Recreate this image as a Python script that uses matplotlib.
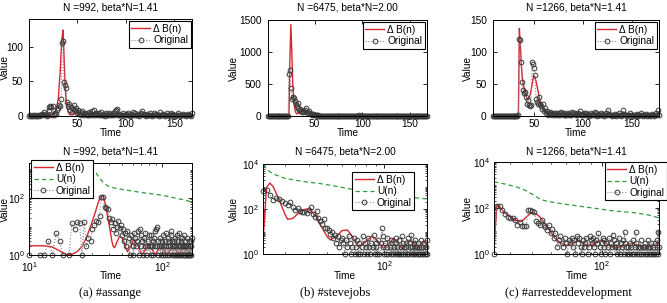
import numpy as np
import matplotlib
matplotlib.use('Agg')
import matplotlib.pyplot as plt
from matplotlib.lines import Line2D
from matplotlib.ticker import FixedLocator, LogLocator, NullFormatter, LogFormatterSciNotation

plt.rcParams['font.family'] = ['Liberation Sans', 'DejaVu Sans']
plt.rcParams['mathtext.fontset'] = 'custom'
plt.rcParams['mathtext.rm'] = 'Liberation Sans'
plt.rcParams['mathtext.it'] = 'Liberation Sans:italic'
plt.rcParams['mathtext.default'] = 'regular'

# ---------------- data ----------------
# (a) #assange
time_a = np.arange(1, 169)
orig_a = [0, 1, 0, 0, 2, 0, 1, 0, 0, 1,
          0, 1, 1, 3, 1, 6, 3, 1, 0, 1,
          13, 8, 14, 13, 1, 14, 2, 4, 3, 8,
          11, 16, 14, 24, 105, 108, 49, 45, 40, 20,
          14, 18, 8, 13, 6, 10, 16, 9, 11, 5,
          8, 3, 6, 2, 7, 4, 1, 5, 3, 2,
          1, 6, 4, 2, 3, 7, 1, 8, 2, 5,
          3, 1, 4, 2, 6, 1, 2, 3, 0, 5,
          2, 1, 5, 2, 3, 1, 4, 2, 7, 8,
          10, 2, 1, 3, 2, 0, 4, 1, 2, 3,
          1, 5, 2, 0, 3, 1, 2, 6, 1, 4,
          2, 1, 3, 0, 2, 5, 7, 3, 1, 2,
          0, 3, 1, 2, 4, 1, 0, 2, 5, 1,
          3, 1, 2, 0, 6, 2, 1, 3, 1, 0,
          2, 4, 1, 2, 0, 5, 1, 3, 2, 1,
          0, 2, 1, 4, 1, 0, 2, 1, 3, 1,
          2, 0, 1, 3, 1, 2, 0, 4]
dB_a_t = [1, 10, 13, 15, 17, 19, 21, 23, 25, 27, 29, 31, 33, 34, 35, 36, 37, 38, 39, 40,
          41, 42, 43, 44, 46, 48, 50, 52, 55, 58, 61, 65, 68, 71, 75, 79, 84, 89, 93, 97,
          103, 109, 115, 122, 128, 133, 139, 145, 151, 158, 163, 168]
dB_a = [2, 2.1, 2.1, 1.9, 1.4, 1.05, 1.05, 1.3, 2, 4, 10, 25, 65, 95, 115, 124, 80, 45, 22, 12,
        6, 3, 2, 1.8, 3, 4.5, 4, 2.5, 1.3, 2, 3.5, 2.5, 1.5, 1, 1.6, 2.5, 1.6, 1, 1.5, 2,
        1.5, 1, 1.4, 2, 1.5, 1, 1.4, 2, 1.5, 1, 1.4, 1.8]
U_a_t = [10, 15, 20, 25, 28, 30, 32, 34, 36, 38, 40, 45, 50, 60, 75, 90, 100, 120, 140, 155, 168]
U_a = [1000, 990, 980, 960, 940, 900, 750, 500, 360, 290, 250, 220, 200, 175, 150, 135, 125,
       105, 90, 80, 72]

# (b) #stevejobs
time_b = np.arange(1, 169)
orig_b = [0, 0, 0, 0, 0, 0, 0, 0, 0, 0,
          0, 0, 0, 0, 0, 0, 0, 0, 0, 0,
          0, 1, 650, 720, 430, 260, 300, 280, 230, 180,
          150, 200, 120, 90, 110, 80, 70, 75, 65, 90,
          120, 60, 45, 80, 40, 30, 22, 37, 15, 14,
          12, 8, 10, 5, 7, 3, 6, 2, 4, 5,
          3, 1, 4, 2, 6, 3, 1, 2, 5, 1,
          2, 4, 1, 3, 1, 2, 6, 1, 3, 2,
          1, 5, 2, 1, 3, 0, 2, 7, 1, 3,
          2, 1, 4, 1, 0, 3, 14, 6, 2, 1,
          3, 1, 2, 5, 1, 0, 2, 4, 1, 3,
          1, 2, 0, 3, 1, 5, 2, 1, 4, 1,
          0, 2, 1, 6, 3, 1, 2, 0, 1, 3,
          2, 1, 5, 1, 0, 2, 3, 1, 7, 2,
          1, 0, 3, 1, 2, 4, 1, 0, 2, 1,
          3, 1, 2, 0, 1, 4, 2, 1, 0, 2,
          1, 3, 1, 0, 2, 1, 4, 1]
dB_b_t = [1, 23, 24, 25, 26, 27, 28, 29, 30, 31, 33, 35, 37, 39, 41, 44, 47, 50, 52, 56,
          60, 64, 68, 73, 80, 86, 92, 99, 106, 112, 118, 124, 130, 137, 143, 149, 155, 161, 168]
dB_b = [3.5, 3.5, 900, 1430, 1000, 500, 250, 120, 60, 35, 38, 60, 90, 100, 85, 45, 15, 6, 4.2, 6,
        11, 11.7, 6, 2.1, 3.5, 6.3, 4, 1.8, 3, 5, 3.5, 1.7, 2.5, 4.2, 3, 1.7, 2.5, 3.8, 2.5]
U_b_t = [23, 24, 25, 27, 30, 34, 40, 46, 55, 66, 80, 100, 125, 150, 168]
U_b = [9000, 6000, 4500, 3200, 2300, 1900, 1550, 1350, 1050, 780, 600, 450, 360, 310, 280]

# (c) #arresteddevelopment
time_c = np.arange(8, 179)
orig_c = [0, 0, 0, 0, 0, 0, 0, 0, 0, 0,
          0, 0, 0, 0, 0, 0, 0, 0, 0, 0,
          0, 0, 0, 0, 0, 0, 1, 121, 119, 85,
          53, 40, 36, 38, 30, 18, 25, 17, 16, 17,
          84, 82, 75, 64, 27, 22, 18, 30, 19, 15,
          11, 18, 8, 12, 5, 8, 2, 4, 6, 3,
          2, 5, 3, 1, 4, 3, 5, 2, 4, 1,
          6, 3, 5, 2, 1, 4, 2, 3, 5, 1,
          2, 6, 4, 3, 5, 2, 1, 4, 3, 8,
          2, 1, 3, 5, 2, 4, 1, 3, 0, 2,
          5, 1, 3, 2, 7, 4, 2, 0, 3, 1,
          2, 5, 1, 3, 0, 2, 4, 1, 9, 3,
          2, 1, 0, 2, 1, 3, 0, 2, 1, 4,
          1, 0, 2, 9, 3, 1, 2, 0, 1, 2,
          4, 1, 0, 2, 1, 0, 2, 3, 1, 0,
          1, 2, 4, 1, 0, 2, 1, 3, 0, 1,
          2, 0, 1, 3, 1, 0, 2, 4, 1, 9,
          2]
dB_c_t = [8, 33, 34, 35, 36, 37, 38, 40, 42, 44, 45, 47, 49, 50, 52, 54, 56, 58, 60, 63,
          67, 70, 74, 79, 83, 88, 94, 100, 107, 115, 125, 136, 145, 155, 165, 178]
dB_c = [1.8, 1.8, 1.8, 137, 110, 80, 60, 42, 30, 26, 27, 40, 58, 63, 55, 40, 25, 15, 9, 4.5,
        2.9, 2.3, 2.8, 4, 3, 2.2, 3, 4, 2.5, 1.8, 2.3, 3, 2.3, 1.8, 2.3, 3]
U_c_t = [34, 38, 43, 47, 51, 54, 58, 63, 70, 80, 95, 112, 140, 160, 178]
U_c = [1380, 1100, 800, 560, 350, 240, 195, 170, 145, 120, 95, 75, 62, 50, 37]

titles = ['N =992, beta*N=1.41', 'N =6475, beta*N=2.00', 'N =1266, beta*N=1.41']
captions = ['(a) #assange', '(b) #stevejobs', '(c) #arresteddevelopment']
lbl_dB, lbl_U, lbl_orig = 'Δ B(n)', 'U(n)', 'Original'

top_ylims = [(0, 140), (0, 1500), (0, 150)]
top_yticks = [[0, 50, 100], [0, 500, 1000, 1500], [0, 50, 100, 150]]
top_xlims = [(1, 168), (1, 168), (8, 178)]
xticks_lin = [50, 100, 150]
bot_xlims = [(10, 168), (23, 168), (34, 178)]
bot_xticks = [[10, 100], [100], [100]]
bot_ylims = [(1, 1700), (1, 1e4), (1, 1e4)]
bot_yticks = [[1, 100], [1, 100, 1e4], [1, 100, 1e4]]

# ---------------- layout ----------------
W, H = 667, 303
fig = plt.figure(figsize=(W / 100, H / 100), dpi=100)
FS = 7.3
RED = '#d9262f'
GREEN = '#2e9e3a'
MEC = '#3a3a3a'
DOT = '#8a8a8a'

top_boxes = [(29, 192, 19, 116), (268, 427, 20, 116), (493, 659, 20, 116)]
bot_boxes = [(29, 192, 163, 255), (263, 427, 164, 254), (494, 659, 162, 254)]
ylab_right = [10, 239, 473]
top_leg = [(191, 21), (425, 22), (657, 22)]            # upper-right corners (px)
bot_leg = [('upper left', 31, 160), ('upper left', 352, 172), ('upper right', 667, 162)]
cap_x = [110, 335, 568]


def add_ax(box):
    l, r, t, b = box
    return fig.add_axes([l / W, 1 - b / H, (r - l) / W, (b - t) / H])


def style(ax):
    ax.tick_params(which='major', direction='in', top=True, right=True, labelsize=FS,
                   length=3, width=0.6)
    ax.tick_params(which='minor', direction='in', top=True, right=True, length=1.6, width=0.5)
    for s in ax.spines.values():
        s.set_linewidth(0.7)


def leg(ax, handles, labels, loc, px, py):
    lg = ax.legend(handles, labels, loc=loc, bbox_to_anchor=(px / W, 1 - py / H),
                   bbox_transform=fig.transFigure, fontsize=FS, frameon=True, fancybox=False,
                   framealpha=1, edgecolor='black', borderaxespad=0, handlelength=1.9,
                   handletextpad=0.3, borderpad=0.25, labelspacing=0.15, numpoints=1)
    lg.get_frame().set_linewidth(0.8)
    return lg


series = [
    (time_a, orig_a, dB_a_t, dB_a, U_a_t, U_a),
    (time_b, orig_b, dB_b_t, dB_b, U_b_t, U_b),
    (time_c, orig_c, dB_c_t, dB_c, U_c_t, U_c),
]

for i, (tt, oo, dbt, dbv, ut, uv) in enumerate(series):
    tt = np.asarray(tt, dtype=float)
    oo = np.asarray(oo, dtype=float)
    orig_style = dict(ls=':', color=DOT, lw=0.8, marker='o', ms=3.4, mfc='none', mec=MEC, mew=0.7)

    # ---- top, linear ----
    box = top_boxes[i]
    ax = add_ax(box)
    h1, = ax.plot(dbt, dbv, color=RED, lw=1.0)
    h2, = ax.plot(tt, oo, clip_on=False, **orig_style)
    ax.set_xlim(*top_xlims[i])
    ax.set_ylim(*top_ylims[i])
    ax.set_xticks(xticks_lin)
    ax.set_yticks(top_yticks[i])
    style(ax)
    ax.tick_params(axis='x', pad=2.5)
    ax.tick_params(axis='y', pad=4.5)
    ax.set_xlabel('Time', fontsize=FS)
    ax.set_ylabel('Value', fontsize=FS)
    hpx = box[3] - box[2]
    wpx = box[1] - box[0]
    ax.xaxis.set_label_coords(0.5, -(128.5 - box[3]) / hpx)
    ax.yaxis.set_label_coords((ylab_right[i] - box[0]) / wpx, 0.5)
    ax.text(0.5, 1 + (box[2] - 7.8) / hpx, titles[i], transform=ax.transAxes,
            ha='center', va='center', fontsize=FS)
    leg(ax, [h1, h2], [lbl_dB, lbl_orig], 'upper right', *top_leg[i])

    # ---- bottom, log-log ----
    box = bot_boxes[i]
    ax = add_ax(box)
    ax.set_xscale('log')
    ax.set_yscale('log')
    x0, x1 = bot_xlims[i]
    ax.plot(dbt, dbv, color=RED, lw=1.0)
    ax.plot(ut, uv, color=GREEN, lw=0.9, ls=(0, (3.5, 2.5)))
    ax.plot(tt, oo, ls=':', color=DOT, lw=0.8)
    m = (oo >= 1) & (tt >= x0) & (tt <= x1)
    ax.plot(tt[m], oo[m], ls='none', marker='o', ms=3.4, mfc='none', mec=MEC, mew=0.7,
            clip_on=False)
    ax.set_xlim(x0, x1)
    ax.set_ylim(*bot_ylims[i])
    ax.xaxis.set_major_locator(FixedLocator(bot_xticks[i]))
    ax.yaxis.set_major_locator(FixedLocator(bot_yticks[i]))
    ax.xaxis.set_major_formatter(LogFormatterSciNotation())
    ax.yaxis.set_major_formatter(LogFormatterSciNotation())
    ax.xaxis.set_minor_locator(LogLocator(base=10, subs=np.arange(2, 10), numticks=20))
    ax.yaxis.set_minor_locator(LogLocator(base=10, subs=np.arange(1, 10), numticks=20))
    ax.xaxis.set_minor_formatter(NullFormatter())
    ax.yaxis.set_minor_formatter(NullFormatter())
    style(ax)
    ax.tick_params(axis='x', pad=3.5)
    ax.tick_params(axis='y', pad=3)
    ax.set_xlabel('Time', fontsize=FS)
    ax.set_ylabel('Value', fontsize=FS)
    hpx = box[3] - box[2]
    wpx = box[1] - box[0]
    ax.xaxis.set_label_coords(0.5, -(271 - box[3]) / hpx)
    ax.yaxis.set_label_coords((ylab_right[i] - box[0]) / wpx, 0.5)
    ax.text(0.5, 1 + (box[2] - 151.5) / hpx, titles[i], transform=ax.transAxes,
            ha='center', va='center', fontsize=FS)
    hb = [Line2D([], [], color=RED, lw=1.0),
          Line2D([], [], color=GREEN, lw=0.9, ls=(0, (3.5, 2.5))),
          Line2D([], [], **orig_style)]
    loc, px, py = bot_leg[i]
    leg(ax, hb, [lbl_dB, lbl_U, lbl_orig], loc, px, py)

    fig.text(cap_x[i] / W, 1 - 293 / H, captions[i], ha='center', va='center',
             fontsize=9, family=['Liberation Serif', 'DejaVu Serif'])

fig.savefig('out.png', dpi=100)
